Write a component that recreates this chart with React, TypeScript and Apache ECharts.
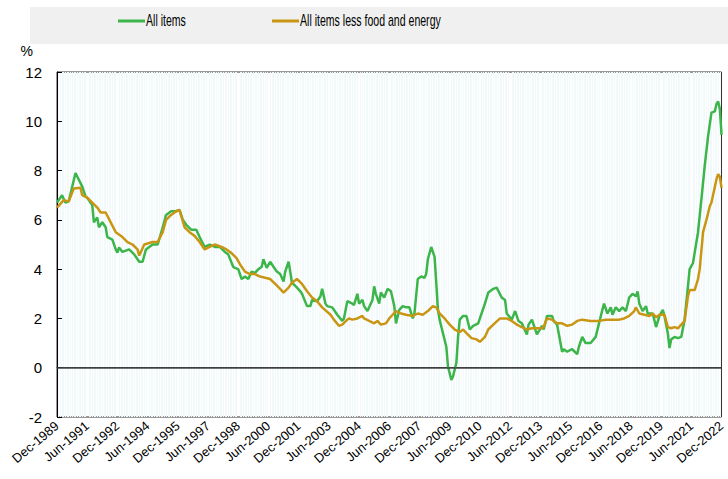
import React, { useEffect, useRef } from "react";
import * as echarts from "echarts";

// Month index 0 = Dec-1989, 396 = Dec-2022
const xTickLabels = [
  "Dec-1989", "Jun-1991", "Dec-1992", "Jun-1994", "Dec-1995", "Jun-1997",
  "Dec-1998", "Jun-2000", "Dec-2001", "Jun-2003", "Dec-2004", "Jun-2006",
  "Dec-2007", "Jun-2009", "Dec-2010", "Jun-2012", "Dec-2013", "Jun-2015",
  "Dec-2016", "Jun-2018", "Dec-2019", "Jun-2021", "Dec-2022",
];

const seriesNames = ["All items", "All items less food and energy"];

// [month index, %]
const allItems: [number, number][] = [
  [0, 6.7], [3, 7.0], [5, 6.7], [7, 6.75], [11, 7.9], [15, 7.36], [17, 6.95], [18, 6.9],
  [21, 6.6], [22, 5.9], [24, 6.1], [25, 5.7], [27, 5.9], [29, 5.7], [30, 5.3], [33, 5.2],
  [35, 4.8], [36, 4.67], [37, 4.88], [39, 4.7], [43, 4.8], [46, 4.6], [49, 4.3], [51, 4.3],
  [53, 4.8], [55, 4.9], [57, 5.0], [60, 5.0], [63, 5.7], [65, 6.2], [68, 6.35], [71, 6.35],
  [73, 6.4], [75, 6.0], [77, 5.8], [80, 5.6], [83, 5.6], [85, 5.3], [88, 4.9], [91, 5.0],
  [94, 4.9], [97, 4.9], [100, 4.7], [102, 4.6], [105, 4.1], [106, 4.05], [108, 4.0], [110, 3.6],
  [112, 3.7], [114, 3.6], [116, 3.9], [118, 3.85], [120, 4.0], [122, 4.1], [123, 4.4], [125, 4.05],
  [127, 4.3], [129, 4.1], [131, 3.9], [133, 3.8], [135, 3.5], [136, 3.9], [138, 4.3], [139, 3.9],
  [140, 3.45], [143, 3.25], [145, 3.1], [146, 3.0], [149, 2.5], [151, 2.5], [152, 2.75], [155, 2.7],
  [157, 2.9], [158, 3.2], [160, 2.6], [161, 2.5], [164, 2.45], [165, 2.35], [167, 2.15], [170, 1.9],
  [171, 2.0], [173, 2.7], [176, 2.6], [177, 2.55], [179, 3.0], [180, 2.6], [182, 2.75], [183, 2.5],
  [185, 2.3], [188, 2.75], [189, 3.3], [190, 3.0], [192, 2.6], [193, 3.05], [195, 2.85], [197, 3.2],
  [199, 3.1], [201, 2.5], [202, 1.8], [204, 2.35], [206, 2.5], [208, 2.45], [210, 2.45], [212, 2.0],
  [213, 2.2], [215, 3.6], [217, 3.7], [219, 3.65], [220, 3.8], [221, 4.4], [223, 4.9], [225, 4.5],
  [226, 3.45], [227, 2.35], [228, 1.95], [230, 1.4], [232, 0.85], [233, 0.05], [235, -0.5], [236, -0.35],
  [238, 0.2], [239, 1.25], [240, 1.95], [242, 2.1], [244, 2.1], [246, 1.55], [248, 1.7], [251, 1.8],
  [253, 2.2], [255, 2.6], [257, 3.05], [260, 3.2], [262, 3.25], [265, 2.85], [267, 2.75], [268, 2.2],
  [271, 1.95], [273, 2.3], [275, 1.9], [277, 1.8], [280, 1.35], [281, 1.75], [283, 1.95], [285, 1.55],
  [286, 1.35], [289, 1.7], [290, 1.55], [292, 2.1], [295, 2.1], [296, 1.9], [298, 1.75], [301, 0.65],
  [302, 0.75], [304, 0.65], [307, 0.75], [310, 0.55], [311, 0.85], [313, 1.25], [315, 1.0], [318, 1.0],
  [321, 1.25], [323, 1.8], [325, 2.35], [326, 2.6], [328, 2.2], [330, 2.45], [331, 2.15], [333, 2.45],
  [335, 2.3], [337, 2.45], [339, 2.3], [341, 2.85], [343, 3.0], [345, 2.9], [346, 3.1], [347, 2.6],
  [349, 2.3], [351, 2.5], [352, 2.2], [355, 2.2], [357, 1.65], [359, 2.1], [361, 2.35], [362, 2.1],
  [364, 1.4], [365, 0.8], [366, 1.15], [368, 1.25], [370, 1.2], [372, 1.25], [374, 1.95], [376, 3.3],
  [377, 4.0], [379, 4.25], [380, 4.67], [382, 5.5], [384, 6.83], [386, 8.2], [388, 9.4], [390, 10.35],
  [392, 10.4], [393, 10.7], [394, 10.8], [395, 10.5], [396, 9.45],
];

const coreItems: [number, number][] = [
  [0, 6.5], [4, 6.8], [7, 6.75], [10, 7.27], [14, 7.3], [15, 7.0], [18, 6.9], [21, 6.7],
  [24, 6.5], [26, 6.3], [29, 6.3], [32, 5.9], [35, 5.5], [39, 5.3], [42, 5.1], [45, 5.0],
  [48, 4.8], [49, 4.55], [52, 5.0], [57, 5.1], [60, 5.1], [63, 5.5], [65, 6.0], [68, 6.2],
  [71, 6.35], [73, 6.4], [76, 5.7], [79, 5.5], [82, 5.35], [85, 5.1], [88, 4.8], [91, 4.9],
  [94, 5.0], [98, 4.9], [101, 4.8], [104, 4.65], [107, 4.45], [109, 4.2], [112, 3.9], [115, 3.8],
  [118, 3.8], [121, 3.7], [124, 3.65], [127, 3.6], [130, 3.4], [133, 3.2], [135, 3.05], [138, 3.25],
  [140, 3.45], [143, 3.6], [146, 3.4], [149, 3.1], [152, 2.85], [155, 2.7], [158, 2.45], [163, 2.15],
  [165, 1.95], [168, 1.7], [170, 1.75], [173, 1.95], [174, 2.0], [176, 1.95], [179, 2.0], [182, 2.1],
  [183, 2.0], [186, 1.9], [189, 1.8], [191, 1.9], [193, 1.75], [196, 1.8], [198, 2.0], [200, 2.15],
  [202, 2.3], [205, 2.2], [208, 2.15], [212, 2.1], [215, 2.2], [218, 2.15], [221, 2.3], [224, 2.5],
  [226, 2.45], [228, 2.2], [231, 2.0], [234, 1.75], [237, 1.55], [240, 1.45], [242, 1.55], [244, 1.4],
  [247, 1.2], [250, 1.15], [252, 1.05], [255, 1.25], [257, 1.55], [260, 1.75], [264, 2.0], [268, 2.0],
  [271, 1.9], [274, 1.75], [277, 1.65], [280, 1.55], [283, 1.6], [289, 1.6], [290, 1.65], [292, 2.0],
  [295, 1.95], [298, 1.8], [301, 1.8], [304, 1.7], [307, 1.75], [310, 1.9], [313, 1.95], [318, 1.9],
  [323, 1.9], [327, 1.95], [331, 1.95], [335, 1.95], [338, 2.0], [341, 2.1], [344, 2.3], [345, 2.45],
  [347, 2.2], [350, 2.15], [353, 2.1], [355, 2.2], [357, 2.05], [359, 2.15], [362, 2.15], [364, 1.65],
  [366, 1.6], [368, 1.65], [370, 1.6], [372, 1.75], [374, 1.9], [376, 2.9], [377, 3.15], [380, 3.15],
  [382, 3.6], [383, 4.0], [385, 5.5], [387, 6.0], [389, 6.55], [390, 6.7], [393, 7.65], [394, 7.85],
  [395, 7.75], [396, 7.3],
];

const colors = ["#3cb54b", "#c99614"];

export default function App() {
  const ref = useRef<HTMLDivElement>(null);
  useEffect(() => {
    if (!ref.current) return;
    const chart = echarts.init(ref.current, undefined, { renderer: "svg" });
    const font = "'Liberation Sans', Arial, sans-serif";
    const legendItem = (x: number, color: string, label: string) => ({
      type: "group",
      children: [
        {
          type: "line",
          shape: { x1: x, y1: 21, x2: x + 27, y2: 21 },
          style: { stroke: color, lineWidth: 3 },
        },
        {
          type: "text",
          x: x + 28,
          y: 21,
          scaleX: 0.66,
          style: {
            text: label,
            fill: "#000",
            font: `16px ${font}`,
            textVerticalAlign: "middle",
            verticalAlign: "middle",
          },
        },
      ],
    });
    chart.setOption({
      animation: false,
      backgroundColor: "#ffffff",
      textStyle: { fontFamily: font },
      graphic: [
        {
          type: "rect",
          z: -1,
          shape: { x: 30, y: 7, width: 698, height: 37 },
          style: { fill: "#f0f0f0" },
        },
        legendItem(118, colors[0], seriesNames[0]),
        legendItem(272, colors[1], seriesNames[1]),
      ],
      legend: { show: false, data: seriesNames },
      grid: {
        left: 57,
        right: 6,
        top: 72,
        bottom: 62,
        show: true,
        borderColor: "#333",
        borderWidth: 1,
        backgroundColor: "#fff",
      },
      xAxis: {
        type: "value",
        min: 0,
        max: 396,
        interval: 18,
        axisLine: { show: true, lineStyle: { color: "#333" } },
        axisTick: { show: false },
        splitLine: { show: false },
        minorTick: { show: false, splitNumber: 18 },
        minorSplitLine: { show: true, lineStyle: { color: "#f2f9fb", width: 1 } },
        axisLabel: {
          rotate: 40,
          margin: 7,
          fontSize: 13,
          color: "#000",
          fontFamily: font,
          formatter: (v: number) => xTickLabels[Math.round(v / 18)] ?? "",
        },
      },
      yAxis: {
        type: "value",
        min: -2,
        max: 12,
        interval: 2,
        name: "%",
        nameLocation: "end",
        nameGap: 14,
        nameTextStyle: { color: "#000", fontSize: 14, align: "right", padding: [0, 24, 0, 0] },
        axisLine: { show: true, lineStyle: { color: "#000" } },
        axisTick: { show: true, inside: true, length: 5, lineStyle: { color: "#000" } },
        splitLine: { show: false },
        axisLabel: { fontSize: 15, color: "#000", margin: 15 },
      },
      series: [
        {
          name: seriesNames[0],
          type: "line",
          data: allItems,
          showSymbol: false,
          color: colors[0],
          lineStyle: { width: 2.5, color: colors[0] },
          markLine: {
            silent: true,
            symbol: "none",
            label: { show: false },
            lineStyle: { color: "#444", width: 1.5, type: "solid" },
            data: [{ yAxis: 0 }],
          },
          z: 2,
        },
        {
          name: seriesNames[1],
          type: "line",
          data: coreItems,
          showSymbol: false,
          color: colors[1],
          lineStyle: { width: 2.5, color: colors[1] },
          z: 3,
        },
      ],
    });
    return () => chart.dispose();
  }, []);
  return (
    <div
      ref={ref}
      style={{ position: "absolute", left: 0, top: 0, width: 728, height: 479 }}
    />
  );
}
